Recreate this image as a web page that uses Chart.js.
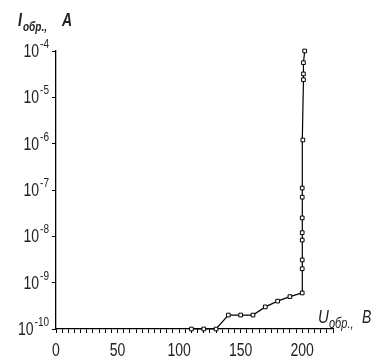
<!DOCTYPE html>
<html lang="ru">
<head>
    <meta charset="UTF-8">
    <title>I обр. (U обр.)</title>
    <style>
        html, body { margin: 0; padding: 0; background: #fff; }
        .chart-box { width: 385px; height: 359px; position: relative; }
    </style>
</head>
<body>
    <div class="chart-box">
        <canvas id="chart" width="385" height="359"></canvas>
    </div>

    <script src="https://cdn.jsdelivr.net/npm/chart.js@4.4.9/dist/chart.umd.min.js"></script>
    <script>
        // reverse voltage, V
        const uValues = [110, 120, 130, 140, 150, 160, 170, 180, 190, 200,
                         200, 200, 200, 200, 200, 200, 200, 200.5, 201, 201, 201, 202];
        // reverse current, A
        const iValues = [1e-10, 1e-10, 1e-10, 2e-10, 2e-10, 2e-10, 3e-10, 4e-10, 5e-10, 6e-10,
                         2e-9, 3.1e-9, 8.3e-9, 1.2e-8, 2.5e-8, 7e-8, 1.1e-7, 1.2e-6, 2.4e-5, 3.2e-5, 5.6e-5, 1e-4];
        const xTickLabels = [0, 50, 100, 150, 200];
        const yExponents = [-4, -5, -6, -7, -8, -9, -10];

        const textColor = '#222';
        const family = '"Liberation Sans", Arial, sans-serif';
        const stretch = 1.25; // the scanned labels are tall and narrow

        // text drawn a bit taller than wide, baseline at y
        function tallText(ctx, text, x, y, font) {
            ctx.save();
            ctx.font = font;
            ctx.translate(x, y);
            ctx.scale(1, stretch);
            ctx.fillText(text, 0, 0);
            ctx.restore();
        }

        const labelsPlugin = {
            id: 'labels',
            afterDraw(chart) {
                const ctx = chart.ctx;
                const xs = chart.scales.x;
                const ys = chart.scales.y;
                ctx.save();
                ctx.fillStyle = textColor;
                ctx.textBaseline = 'alphabetic';
                ctx.textAlign = 'left';

                // y tick labels 10^n
                yExponents.forEach(e => {
                    const y = ys.getPixelForValue(Math.pow(10, e));
                    const sup = '-' + Math.abs(e);
                    ctx.font = '10px ' + family;
                    const wSup = ctx.measureText(sup).width;
                    ctx.font = '14px ' + family;
                    const wBase = ctx.measureText('10').width;
                    const right = 49;
                    tallText(ctx, '10', right - wSup - wBase - 1, y + 6, '14px ' + family);
                    tallText(ctx, sup, right - wSup, y - 3, '10px ' + family);
                });

                // x tick labels
                ctx.textAlign = 'center';
                xTickLabels.forEach(v => {
                    tallText(ctx, String(v), xs.getPixelForValue(v), 356, '14px ' + family);
                });

                // y title: I обр., A
                ctx.textAlign = 'left';
                tallText(ctx, 'I', 18, 26, 'bold italic 14px ' + family);
                tallText(ctx, 'обр.,', 23, 31, 'bold italic 10px ' + family);
                tallText(ctx, 'A', 62, 26, 'bold italic 14px ' + family);

                // x title: U обр., B
                tallText(ctx, 'U', 318, 323, 'italic 15px ' + family);
                tallText(ctx, 'обр.,', 329, 328, 'italic 11px ' + family);
                tallText(ctx, 'B', 362, 323, 'italic 14px ' + family);

                ctx.restore();
            }
        };

        const points = uValues.map((u, i) => ({ x: u, y: iValues[i] }));

        new Chart(document.getElementById('chart'), {
            type: 'line',
            data: {
                datasets: [{
                    data: points,
                    borderColor: '#000',
                    borderWidth: 1.2,
                    pointStyle: 'rect',
                    pointRadius: 2.6,
                    pointBorderWidth: 1,
                    pointBorderColor: '#000',
                    pointBackgroundColor: '#fff',
                    tension: 0,
                    clip: false
                }]
            },
            options: {
                responsive: false,
                animation: false,
                events: [],
                layout: { padding: { left: 0, right: 52, top: 51, bottom: 0 } },
                plugins: {
                    legend: { display: false },
                    tooltip: { enabled: false }
                },
                scales: {
                    x: {
                        type: 'linear',
                        min: 0,
                        max: 225,
                        ticks: { display: false, stepSize: 5, maxTicksLimit: 100, autoSkip: false },
                        grid: { drawOnChartArea: false, drawTicks: true, tickLength: 4, color: '#000' },
                        border: { display: true, color: '#000', width: 1.3 },
                        afterFit(scale) { scale.height = 30; }
                    },
                    y: {
                        type: 'logarithmic',
                        min: 1e-10,
                        max: 1e-4,
                        ticks: { display: false },
                        afterBuildTicks(scale) {
                            scale.ticks = yExponents.map(e => ({ value: Math.pow(10, e) }));
                        },
                        grid: { drawOnChartArea: false, drawTicks: true, tickLength: 4, color: '#000' },
                        border: { display: true, color: '#000', width: 1.3 },
                        afterFit(scale) { scale.width = 56; }
                    }
                }
            },
            plugins: [labelsPlugin]
        });
    </script>
</body>
</html>
